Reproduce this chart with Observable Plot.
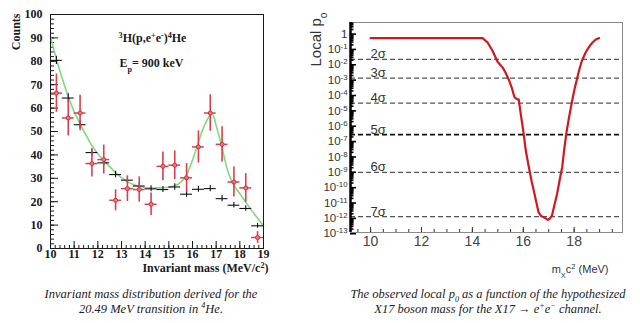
<!DOCTYPE html>
<html><head><meta charset="utf-8">
<script src="https://cdn.jsdelivr.net/npm/d3@7"></script>
<script src="https://cdn.jsdelivr.net/npm/@observablehq/plot@0.6"></script>
<style>
html,body{margin:0;padding:0;background:#fff;}
#wrap{position:relative;width:640px;height:323px;overflow:hidden;background:#fff;}
#left{position:absolute;left:0;top:0;}
#right{position:absolute;left:300px;top:0;}
.cap{position:absolute;top:287px;font-family:"Liberation Serif","Times New Roman",serif;font-style:italic;font-size:12.5px;line-height:15px;color:#222;text-align:center;white-space:nowrap;transform:translateX(-50%);}
.cap sup,.cap sub{font-size:65%;line-height:0;}
</style></head><body>
<div id="wrap"><div id="left"></div><div id="right"></div>
<div class="cap" style="left:151px">Invariant mass distribution derived for the<br>20.49 MeV transition in <sup>4</sup>He.</div>
<div class="cap" style="left:488px">The observed local p<sub>0</sub> as a function of the hypothesized<br>X17 boson mass for the X17 → e<sup>+</sup>e<sup>−</sup> channel.</div>
</div>
<script>
// ---------- Left panel data ----------
const binCenters = [10.25,10.75,11.25,11.75,12.25,12.75,13.25,13.75,14.25,14.75,15.25,15.75,16.25,16.75,17.25,17.75,18.25,18.75];
const dataCounts = [66.4,55.8,57.9,36.3,38.0,20.6,25.6,25.2,18.9,35.1,35.6,30.2,43.4,57.9,44.5,28.4,25.9,4.7];
const dataErr    = [8.2,7.7,7.6,5.7,6.2,4.5,5.5,5.4,4.8,6.1,6.1,6.1,6.9,7.8,7.5,6.4,6.1,2.5];
const bkgCounts  = [80.4,64.3,52.9,41.0,36.6,31.6,29.2,26.7,25.5,25.2,26.3,23.2,25.3,25.6,21.3,18.5,17.1,9.7];
const bkgErr     = [1.8,1.8,1.7,1.6,1.5,1.4,1.4,1.4,1.3,1.3,1.4,1.3,1.3,1.3,1.3,1.2,1.2,1.0];
const fitMass    = [10,10.25,10.5,10.75,11,11.25,11.5,11.75,12,12.25,12.5,12.75,13,13.25,13.5,13.75,14,14.25,14.5,14.75,15,15.25,15.5,15.75,16,16.25,16.5,16.75,16.85,17,17.25,17.5,17.75,18,18.25,18.5,18.75,19];
const fitCounts  = [90.5,81,72.5,65,58.5,53.3,48.5,44,40.5,37.6,35,32.4,30.3,28.6,27.4,26.6,26.1,25.9,25.9,26,26.2,26.8,28.3,31.5,37.8,45.5,52.5,57,57.3,52.5,43,32.8,27,23.4,19.8,16.3,13,9.6];
const leftXTicks = [10,11,12,13,14,15,16,17,18,19];
const leftYTicks = [0,10,20,30,40,50,60,70,80,90,100];
const leftTitle1 = "^{3}H(p,e^{+}e^{-})^{4}He";
const leftTitle2 = "E_{p}= 900 keV";
const leftXLabel = "Invariant mass (MeV/c^{2})";
const leftYLabel = "Counts";

// ---------- Right panel data ----------
const pMass  = [10,14.4,14.6,14.79,14.99,15.2,15.3,15.45,15.55,15.65,15.75,15.82,15.9,16.0,16.1,16.22,16.33,16.44,16.6,16.7,16.8,16.97,17.05,17.13,17.23,17.33,17.43,17.53,17.61,17.69,17.78,17.86,17.95,18.03,18.1,18.19,18.3,18.45,18.6,18.72,18.85,18.98];
const pLog10 = [-0.26,-0.26,-0.55,-1.09,-1.8,-2.2,-2.5,-3.04,-3.5,-4.1,-4.23,-4.25,-5.2,-6.3,-7.6,-8.67,-9.6,-10.4,-11.6,-11.85,-11.92,-12.1,-12.0,-11.8,-11.1,-10.4,-9.5,-8.67,-7.5,-6.5,-5.6,-4.88,-4.1,-3.47,-3.0,-2.39,-1.75,-1.2,-0.8,-0.55,-0.35,-0.26];
const sigmaLabels = ["2σ","3σ","4σ","5σ","6σ","7σ"];
const sigmaP      = [2.28e-2,1.35e-3,3.17e-5,2.87e-7,9.87e-10,1.28e-12];
const rightXTicks = [10,12,14,16,18];
const rightYExp   = [0,-1,-2,-3,-4,-5,-6,-7,-8,-9,-10,-11,-12,-13];
const rightXLabel = "m_{X}c^{2} (MeV)";
const rightYLabel = "Local p_{o}";

// ---------- helpers ----------
function richText(svg){
  d3.select(svg).selectAll("text").each(function(){
    const t = this.textContent;
    if (!/[\^_]\{/.test(t)) return;
    const re = /([\^_])\{([^}]*)\}/g;
    let last = 0, m;
    const parts = [];
    while ((m = re.exec(t))) {
      if (m.index > last) parts.push({s:t.slice(last,m.index), k:""});
      parts.push({s:m[2], k:m[1]});
      last = re.lastIndex;
    }
    if (last < t.length) parts.push({s:t.slice(last), k:""});
    const el = d3.select(this);
    el.text(null);
    for (const p of parts) {
      const ts = el.append("tspan").text(p.s);
      if (p.k === "^") ts.attr("baseline-shift","super").attr("font-size","68%");
      if (p.k === "_") ts.attr("baseline-shift","sub").attr("font-size","68%");
    }
  });
}

// ---------- Left plot ----------
const binHalf = 0.25;
const dataRows = binCenters.map((x,i)=>({x, y:dataCounts[i], e:dataErr[i]}));
const bkgRows  = binCenters.map((x,i)=>({x, y:bkgCounts[i], e:bkgErr[i]}));
const fitRows  = fitMass.map((x,i)=>({x, y:fitCounts[i]}));
const serif = "'Liberation Serif','Times New Roman',serif";
const redC = "#d8404c";

const left = Plot.plot({
  width:300, height:280, marginLeft:50, marginRight:37, marginTop:14, marginBottom:32,
  style:{fontFamily:serif, fontSize:"12px", fontWeight:"bold", background:"transparent", color:"#1a1a1a"},
  x:{domain:[10,19], label:null},
  y:{domain:[0,100], label:null},
  marks:[
    Plot.axisY({ticks:d3.range(0,101,2), tickSize:-4, tickFormat:()=>"", label:null}),
    Plot.axisY({ticks:leftYTicks, tickSize:-8, tickFormat:()=>"", label:null}),
    Plot.axisY({ticks:leftYTicks, tickSize:0, tickPadding:8, label:null}),
    Plot.axisX({ticks:d3.range(10,19.01,0.2), tickSize:-3, tickFormat:()=>"", label:null}),
    Plot.axisX({ticks:leftXTicks, tickSize:-7, tickFormat:()=>"", label:null}),
    Plot.axisX({ticks:leftXTicks, tickSize:0, tickPadding:1, label:null}),
    Plot.line(fitRows, {x:"x", y:"y", stroke:"#82d882", strokeWidth:1.6, curve:"catmull-rom"}),
    Plot.ruleY(bkgRows, {y:"y", x1:d=>d.x-binHalf, x2:d=>d.x+binHalf, stroke:"#111", strokeWidth:1.1}),
    Plot.ruleX(bkgRows, {x:"x", y1:d=>d.y-d.e, y2:d=>d.y+d.e, stroke:"#111", strokeWidth:1.1}),
    Plot.ruleX(dataRows, {x:"x", y1:d=>d.y-d.e, y2:d=>d.y+d.e, stroke:redC, strokeWidth:1.6}),
    Plot.ruleY(dataRows, {y:"y", x1:d=>d.x-binHalf, x2:d=>d.x+binHalf, stroke:redC, strokeWidth:1.5}),
    Plot.dot(dataRows, {x:"x", y:"y", r:2, fill:"#f07a84", stroke:"#c8303c", strokeWidth:1}),
    Plot.frame({stroke:"#1a1a1a", strokeWidth:1}),
    Plot.text([leftTitle1], {frameAnchor:"top", dx:-4.5, dy:19, fontSize:12, fontWeight:"bold", fill:"#1a1a1a"}),
    Plot.text([leftTitle2], {frameAnchor:"top", dx:-5.5, dy:44, fontSize:12, fontWeight:"bold", fill:"#1a1a1a"}),
    Plot.text([leftXLabel], {frameAnchor:"bottom-right", textAnchor:"end", dx:5, dy:23.5, fontSize:12, fontWeight:"bold", fill:"#1a1a1a"}),
    Plot.text([leftYLabel], {frameAnchor:"top-left", textAnchor:"end", rotate:-90, dx:-39, dy:-1, fontSize:12, fontWeight:"bold", fill:"#1a1a1a"})
  ]
});
richText(left);
document.getElementById("left").append(left);

// ---------- Right plot ----------
const sans = "'Liberation Sans',Arial,sans-serif";
const xDomR = [9.21, 19.9];
const yDomR = [Math.pow(10,-12.92), Math.pow(10,0.754)];
const pRows = pMass.map((m,i)=>({m, p:Math.pow(10,pLog10[i])}));
const sigmaRows = sigmaLabels.map((label,i)=>({label, p:sigmaP[i]}));
const majorY = rightYExp.map(e=>Math.pow(10,e));
const minorY = [];
for (const e of rightYExp) for (let k=2;k<=9;k++){ const v=k*Math.pow(10,e); if (v>=yDomR[0] && v<=yDomR[1]) minorY.push(v); }
const fmtExp = d => { const e = Math.round(Math.log10(d)); return e===0 ? "1" : `10^{${e}}`; };

const right = Plot.plot({
  width:340, height:280, marginLeft:50, marginRight:18, marginTop:22, marginBottom:48,
  style:{fontFamily:sans, fontSize:"12px", background:"transparent", color:"#333"},
  x:{domain:xDomR, label:null},
  y:{type:"log", domain:yDomR, label:null},
  marks:[
    Plot.frame({stroke:"#8a8a8a", strokeWidth:1}),
    Plot.ruleY(sigmaRows.filter(d=>d.label!=="5σ"), {y:"p", stroke:"#555", strokeWidth:1.3, strokeDasharray:"5,3"}),
    Plot.ruleY(sigmaRows.filter(d=>d.label==="5σ"), {y:"p", stroke:"#111", strokeWidth:1.8, strokeDasharray:"5,3"}),
    Plot.text(sigmaRows, {y:"p", text:"label", frameAnchor:"left", textAnchor:"start", lineAnchor:"bottom", dx:20, dy:-1, fontSize:13, fill:"#333"}),
    Plot.line(pRows, {x:"m", y:"p", stroke:"#d01820", strokeWidth:2.2}),
    Plot.ruleX([xDomR[0]], {stroke:"#000", strokeWidth:2.5}),
    Plot.axisY({ticks:minorY, tickSize:-3.5, tickFormat:()=>"", strokeWidth:1.6, stroke:"#000", label:null}),
    Plot.axisY({ticks:majorY, tickSize:-6, tickFormat:()=>"", strokeWidth:1.6, stroke:"#000", label:null}),
    Plot.axisY({ticks:majorY, tickSize:0, tickPadding:3, tickFormat:fmtExp, fontSize:11.5, fill:"#333", label:null}),
    Plot.axisX({ticks:d3.range(9.5,19.9,0.5), tickSize:-3, tickFormat:()=>"", stroke:"#333", label:null}),
    Plot.axisX({ticks:rightXTicks, tickSize:-5, tickFormat:()=>"", stroke:"#333", label:null}),
    Plot.axisX({ticks:rightXTicks, tickSize:0, tickPadding:4, fontSize:14, fill:"#444", label:null}),
    Plot.text([rightXLabel], {frameAnchor:"bottom-right", textAnchor:"end", dx:-14, dy:40, fontSize:11, fill:"#333"}),
    Plot.text([rightYLabel], {frameAnchor:"top-left", textAnchor:"end", rotate:-90, dx:-40, dy:-10, fontSize:15, fill:"#333"})
  ]
});
richText(right);
document.getElementById("right").append(right);
</script>
</body></html>
